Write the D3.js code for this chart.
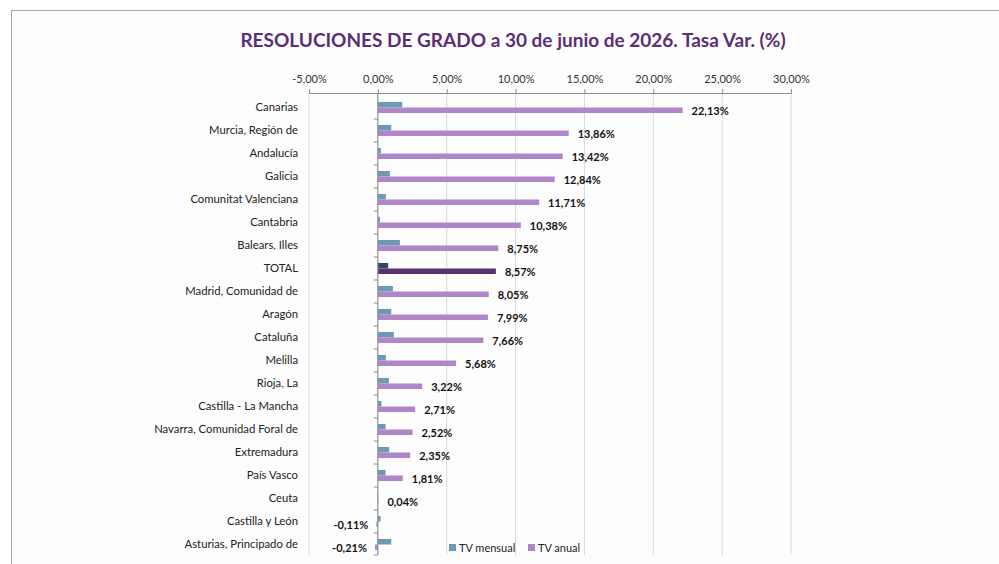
<!DOCTYPE html>
<html>
<head>
<meta charset="utf-8">
<script src="https://cdn.jsdelivr.net/npm/d3@7"></script>
<style>
  body { margin: 0; background: #fff; }
  svg { display: block; font-family: Lato, "Open Sans", sans-serif; }
</style>
</head>
<body>
<div id="chart"></div>
<script>
// data
var categories = ["Canarias", "Murcia, Región de", "Andalucía", "Galicia", "Comunitat Valenciana",
  "Cantabria", "Balears, Illes", "TOTAL", "Madrid, Comunidad de", "Aragón", "Cataluña", "Melilla",
  "Rioja, La", "Castilla - La Mancha", "Navarra, Comunidad Foral de", "Extremadura", "País Vasco",
  "Ceuta", "Castilla y León", "Asturias, Principado de"];
var tvMensual = [1.77, 0.97, 0.22, 0.87, 0.58, 0.15, 1.60, 0.75, 1.09, 0.97, 1.16, 0.58,
  0.80, 0.26, 0.56, 0.82, 0.56, -0.05, 0.20, 0.97];
var tvAnual = [22.13, 13.86, 13.42, 12.84, 11.71, 10.38, 8.75, 8.57, 8.05, 7.99, 7.66, 5.68,
  3.22, 2.71, 2.52, 2.35, 1.81, 0.04, -0.11, -0.21];
var xTicks = [-5, 0, 5, 10, 15, 20, 25, 30];
var seriesNames = ["TV mensual", "TV anual"];

var width = 999, height = 564;
var colMensual = "#6b9bb4", colAnual = "#b086c9",
  colMensualTot = "#2f4b5e", colAnualTot = "#5a3272";

var es = d3.formatLocale({decimal: ",", thousands: ".", grouping: [3], currency: ["", "€"], minus: "-"});
var pct = function(v) { return es.format(".2f")(v) + "%"; };

var svg = d3.select("#chart").append("svg")
  .attr("width", width)
  .attr("height", height);

// frame
svg.append("rect")
  .attr("x", 11.5).attr("y", 10.5)
  .attr("width", 1100).attr("height", 700)
  .attr("fill", "#fdfdfd")
  .attr("stroke", "#a6a6a6");

svg.append("text")
  .attr("x", 513).attr("y", 47)
  .attr("text-anchor", "middle")
  .attr("fill", "#5b2f73")
  .attr("font-weight", "bold")
  .attr("font-size", 19)
  .text("RESOLUCIONES DE GRADO a 30 de junio de 2026. Tasa Var. (%)");

var x = d3.scaleLinear().domain([-5, 30]).range([309, 791]);
var y = d3.scaleBand().domain(categories).range([96, 556]).paddingInner(0.52).paddingOuter(0.26);
var ySub = d3.scaleBand().domain(seriesNames).range([0, y.bandwidth()]);
var plotTop = 93, plotBottom = 555;

// gridlines
svg.append("g").selectAll("line").data(xTicks).enter().append("line")
  .attr("x1", function(d) { return x(d); })
  .attr("x2", function(d) { return x(d); })
  .attr("y1", plotTop).attr("y2", plotBottom)
  .attr("stroke", "#d9d9d9");

// top axis
var xAxis = svg.append("g")
  .attr("transform", "translate(0," + plotTop + ")")
  .call(d3.axisTop(x).tickValues(xTicks).tickFormat(pct).tickSize(4).tickPadding(6));
xAxis.select(".domain").attr("stroke", "#8c8c8c");
xAxis.selectAll(".tick line").attr("stroke", "#8c8c8c");
xAxis.selectAll("text").attr("font-size", 11).attr("fill", "#333")
  .attr("font-family", "Lato, sans-serif");

// bars
var rows = categories.map(function(c, i) {
  return {cat: c, mensual: tvMensual[i], anual: tvAnual[i]};
});
var g = svg.append("g");
g.selectAll("rect.m").data(rows).enter().append("rect")
  .attr("class", "m")
  .attr("x", function(d) { return x(Math.min(0, d.mensual)); })
  .attr("y", function(d) { return y(d.cat) + ySub("TV mensual"); })
  .attr("width", function(d) { return Math.abs(x(d.mensual) - x(0)); })
  .attr("height", ySub.bandwidth())
  .attr("fill", function(d) { return d.cat === "TOTAL" ? colMensualTot : colMensual; });
g.selectAll("rect.a").data(rows).enter().append("rect")
  .attr("class", "a")
  .attr("x", function(d) { return x(Math.min(0, d.anual)); })
  .attr("y", function(d) { return y(d.cat) + ySub("TV anual"); })
  .attr("width", function(d) { return Math.abs(x(d.anual) - x(0)); })
  .attr("height", ySub.bandwidth())
  .attr("fill", function(d) { return d.cat === "TOTAL" ? colAnualTot : colAnual; });

// value labels
g.selectAll("text.v").data(rows).enter().append("text")
  .attr("class", "v")
  .attr("x", function(d) { return d.anual < 0 ? x(d.anual) - 8 : x(d.anual) + 9; })
  .attr("y", function(d) { return y(d.cat) + ySub("TV anual") + ySub.bandwidth() / 2 + 1; })
  .attr("dy", "0.35em")
  .attr("text-anchor", function(d) { return d.anual < 0 ? "end" : "start"; })
  .attr("font-size", 11)
  .attr("font-weight", "bold")
  .attr("fill", "#111")
  .text(function(d) { return pct(d.anual); });

// y axis
var yAxisG = svg.append("g");
yAxisG.append("line")
  .attr("x1", x(0)).attr("x2", x(0))
  .attr("y1", plotTop).attr("y2", plotBottom)
  .attr("stroke", "#8c8c8c");
yAxisG.selectAll("line.t").data(categories.slice(1)).enter().append("line")
  .attr("class", "t")
  .attr("x1", x(0) - 4).attr("x2", x(0))
  .attr("y1", function(d) { return y(d) - y.step() * y.paddingInner() / 2; })
  .attr("y2", function(d) { return y(d) - y.step() * y.paddingInner() / 2; })
  .attr("stroke", "#8c8c8c");
yAxisG.append("line")
  .attr("x1", x(0) - 4).attr("x2", x(0))
  .attr("y1", plotBottom).attr("y2", plotBottom)
  .attr("stroke", "#8c8c8c");
yAxisG.selectAll("text").data(categories).enter().append("text")
  .attr("x", 298)
  .attr("y", function(d) { return y(d) + y.bandwidth() / 2; })
  .attr("dy", "0.35em")
  .attr("text-anchor", "end")
  .attr("font-size", 11.3)
  .attr("fill", "#222")
  .text(function(d) { return d; });

// legend
var legend = svg.append("g");
var legX = [449, 528];
seriesNames.forEach(function(s, i) {
  legend.append("rect")
    .attr("x", legX[i]).attr("y", 544)
    .attr("width", 7).attr("height", 7)
    .attr("fill", i === 0 ? colMensual : colAnual);
  legend.append("text")
    .attr("x", legX[i] + 10).attr("y", 548)
    .attr("dy", "0.35em")
    .attr("font-size", 11)
    .attr("fill", "#222")
    .text(s);
});
</script>
</body>
</html>
